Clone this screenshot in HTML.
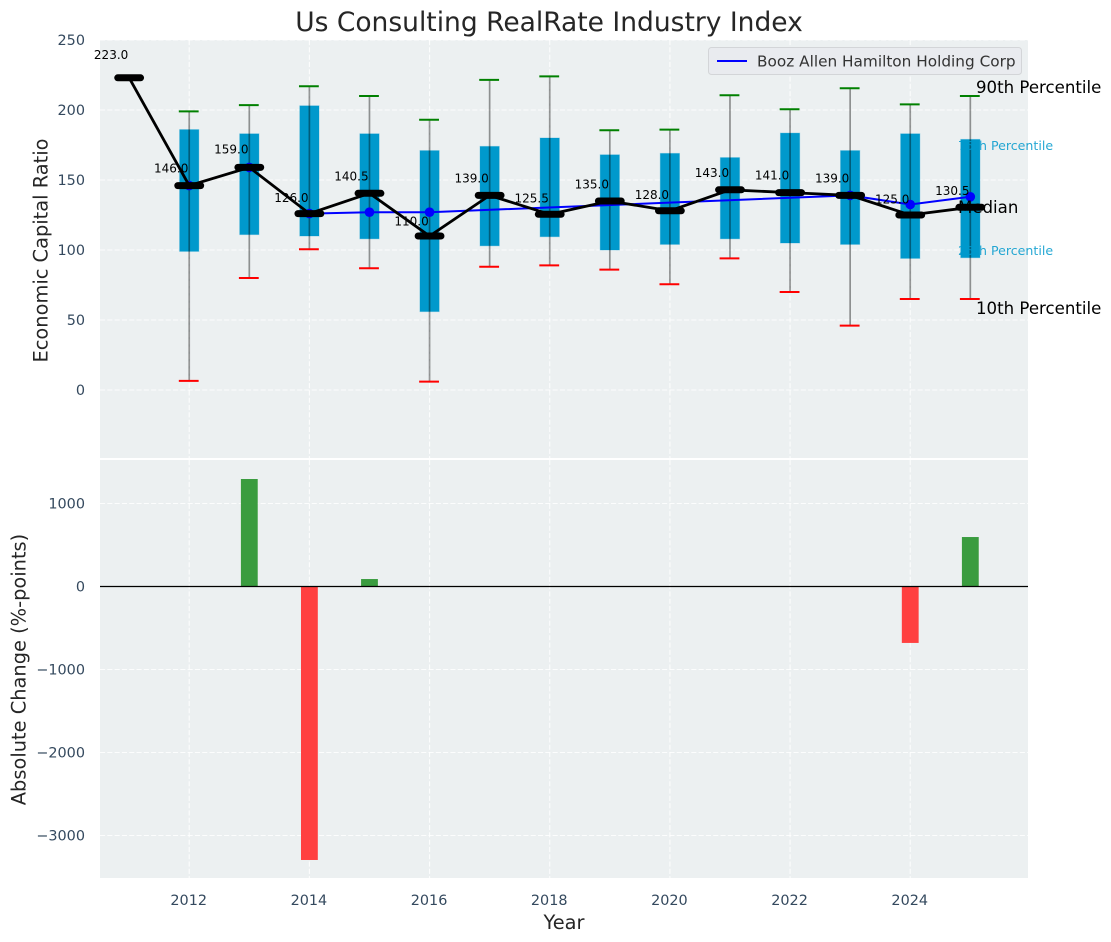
<!DOCTYPE html>
<html lang="en">
<head>
<meta charset="utf-8">
<title>Us Consulting RealRate Industry Index</title>
<style>
  html, body { margin: 0; padding: 0; background: #fff; }
  svg { display: block; font-family: "DejaVu Sans", "Liberation Sans", sans-serif; }
</style>
</head>
<body>
<svg id="chart" xmlns="http://www.w3.org/2000/svg" width="1111" height="942" viewBox="0 0 1111 942">
  <rect x="0" y="0" width="1111" height="942" fill="#ffffff"/>
  <rect x="100" y="40" width="928" height="418" fill="#ecf0f1"/>
  <rect x="100" y="460" width="928" height="418" fill="#ecf0f1"/>
  <g id="grid"></g>
  <g id="ticks"></g>
  <g id="boxes"></g>
  <g id="company"></g>
  <g id="medians"></g>
  <g id="bars"></g>
  <line x1="100" x2="1028" y1="586.5" y2="586.5" stroke="#000" stroke-width="1.3"/>
  <text x="549" y="31" text-anchor="middle" font-size="26.5" fill="#262626">Us Consulting RealRate Industry Index</text>
  <text transform="translate(47.5,250.5) rotate(-90)" text-anchor="middle" font-size="19.4" fill="#262626">Economic Capital Ratio</text>
  <text transform="translate(25.5,669.5) rotate(-90)" text-anchor="middle" font-size="19.4" fill="#262626">Absolute Change (%-points)</text>
  <text x="564" y="929" text-anchor="middle" font-size="19.4" fill="#262626">Year</text>
  <g>
    <rect x="708.5" y="47.5" width="313" height="27" rx="3" fill="#e9ebef" stroke="#d3d5d8"/>
    <line x1="717" x2="747" y1="61" y2="61" stroke="#0000ff" stroke-width="2"/>
    <text x="757" y="66.5" font-size="15.3" fill="#333">Booz Allen Hamilton Holding Corp</text>
  </g>
  <text x="976" y="93" font-size="16.6" fill="#000">90th Percentile</text>
  <text x="958" y="150" font-size="12.6" fill="#0099cc" fill-opacity="0.85">75th Percentile</text>
  <text x="958" y="213" font-size="16.6" fill="#000">Median</text>
  <text x="958" y="255" font-size="12.6" fill="#0099cc" fill-opacity="0.85">25th Percentile</text>
  <text x="976" y="314" font-size="16.6" fill="#000">10th Percentile</text>
</svg>
<script>
// Chart data
const boxYears = [2012, 2013, 2014, 2015, 2016, 2017, 2018, 2019, 2020, 2021, 2022, 2023, 2024, 2025];
const p90 = [199, 203.5, 217, 210, 193, 221.5, 224, 185.5, 186, 210.5, 200.5, 215.5, 204, 210];
const p75 = [186, 183, 203, 183, 171, 174, 180, 168, 169, 166, 183.5, 171, 183, 179];
const p25 = [99, 111, 110, 108, 56, 103, 109.5, 100, 104, 108, 105, 104, 94, 94.5];
const p10 = [6.5, 80, 100.5, 87, 6, 88, 89, 86, 75.5, 94, 70, 46, 65, 65];
const medianYears = [2011, 2012, 2013, 2014, 2015, 2016, 2017, 2018, 2019, 2020, 2021, 2022, 2023, 2024, 2025];
const medians = [223, 146, 159, 126, 140.5, 110, 139, 125.5, 135, 128, 143, 141, 139, 125, 130.5];
const companyYears = [2012, 2013, 2014, 2015, 2016, 2023, 2024, 2025];
const companyValues = [146, 159, 126, 127, 127, 139, 132.5, 138];
const changeYears = [2013, 2014, 2015, 2024, 2025];
const changeValues = [1295, -3295, 90, -680, 596];
const xTicks = [2012, 2014, 2016, 2018, 2020, 2022, 2024];
const topTicks = [0, 50, 100, 150, 200, 250];
const bottomTicks = [-3000, -2000, -1000, 0, 1000];

// Axis functions
const NS = 'http://www.w3.org/2000/svg';
function xPos(year) { return 100 + (year - 2010.515) / (2025.96 - 2010.515) * 928; }
function yTop(v) { return 40 + (250 - v) / (250 + 48.57) * 418; }
function yBottom(v) { return 460 + (1524 - v) / (1524 + 3512) * 418; }
function make(tag, parent, attrs) {
  const el = document.createElementNS(NS, tag);
  for (const k in attrs) el.setAttribute(k, attrs[k]);
  document.getElementById(parent).appendChild(el);
  return el;
}
function fmt(v) { return v < 0 ? '\u2212' + Math.abs(v) : String(v); }

// Grid
xTicks.forEach(function (t) {
  const top = make('line', 'grid', { x1: xPos(t), x2: xPos(t), y1: 40, y2: 458, stroke: '#fff', 'stroke-width': 1.1, 'stroke-dasharray': '5.1 2.2', 'stroke-opacity': 0.85 });
  
  
  const bot = make('line', 'grid', { x1: xPos(t), x2: xPos(t), y1: 460, y2: 878, stroke: '#fff', 'stroke-width': 1.1, 'stroke-dasharray': '5.1 2.2', 'stroke-opacity': 0.85 });
  
  
  const label = make('text', 'ticks', { x: xPos(t) - 0.5, y: 905, 'text-anchor': 'middle', 'font-size': 14.4, fill: '#34495e' });
  
  
  label.textContent = String(t);
});
topTicks.forEach(function (t) {
  const line = make('line', 'grid', { x1: 100, x2: 1028, y1: yTop(t), y2: yTop(t), stroke: '#fff', 'stroke-width': 1.1, 'stroke-dasharray': '5.1 2.2', 'stroke-opacity': 0.85 });
  
  
  const label = make('text', 'ticks', { x: 85, y: yTop(t) + 5, 'text-anchor': 'end', 'font-size': 14.4, fill: '#34495e' });
  
  
  label.textContent = fmt(t);
});
bottomTicks.forEach(function (t) {
  const line = make('line', 'grid', { x1: 100, x2: 1028, y1: yBottom(t), y2: yBottom(t), stroke: '#fff', 'stroke-width': 1.1, 'stroke-dasharray': '5.1 2.2', 'stroke-opacity': 0.85 });
  
  
  const label = make('text', 'ticks', { x: 85, y: yBottom(t) + 5, 'text-anchor': 'end', 'font-size': 14.4, fill: '#34495e' });
  
  
  label.textContent = fmt(t);
});

// Percentile boxes and whiskers
boxYears.forEach(function (year, i) {
  const cx = xPos(year);
  const halfBox = xPos(year + 0.16) - cx;
  const halfCap = xPos(year + 0.165) - cx;
  const box = make('rect', 'boxes', { x: cx - halfBox, y: yTop(p75[i]), width: halfBox * 2, height: yTop(p25[i]) - yTop(p75[i]), fill: '#0099cc', stroke: '#0099cc', 'stroke-opacity': 0.3, 'stroke-width': 1 });
  
  
  const whisker = make('line', 'boxes', { x1: cx, x2: cx, y1: yTop(p90[i]), y2: yTop(p10[i]), stroke: '#000', 'stroke-opacity': 0.4, 'stroke-width': 1.7 });
  
  
  const capHigh = make('line', 'boxes', { x1: cx - halfCap - 0.5, x2: cx + halfCap - 0.5, y1: yTop(p90[i]), y2: yTop(p90[i]), stroke: '#008000', 'stroke-width': 2 });
  
  
  const capLow = make('line', 'boxes', { x1: cx - halfCap - 0.5, x2: cx + halfCap - 0.5, y1: yTop(p10[i]), y2: yTop(p10[i]), stroke: '#ff0000', 'stroke-width': 2 });
  
  
});

// Company series
const companyLine = make('polyline', 'company', { points: companyYears.map(function (y, i) { return xPos(y) + ',' + yTop(companyValues[i]); }).join(' '), fill: 'none', stroke: '#0000ff', 'stroke-width': 2 });


companyYears.forEach(function (y, i) {
  const dot = make('circle', 'company', { cx: xPos(y), cy: yTop(companyValues[i]), r: 4.8, fill: '#0000ff' });
  
  
});

// Median series
const medianLine = make('polyline', 'medians', { points: medianYears.map(function (y, i) { return xPos(y) + ',' + yTop(medians[i]); }).join(' '), fill: 'none', stroke: '#000', 'stroke-width': 2.8 });


medianYears.forEach(function (y, i) {
  const half = xPos(y + 0.19) - xPos(y);
  const cap = make('line', 'medians', { x1: xPos(y) - half, x2: xPos(y) + half, y1: yTop(medians[i]), y2: yTop(medians[i]), stroke: '#000', 'stroke-width': 7, 'stroke-linecap': 'round' });
  
  
  const label = make('text', 'medians', { x: xPos(y - 0.3), y: yTop(medians[i] * 1.05) - 7.4 + 4.4, 'text-anchor': 'middle', 'font-size': 12, fill: '#000' });
  
  
  label.textContent = medians[i].toFixed(1);
});

// Change bars
changeYears.forEach(function (y, i) {
  const v = changeValues[i];
  const half = xPos(y + 0.14) - xPos(y);
  const y0 = yBottom(0);
  const y1 = yBottom(v);
  const bar = make('rect', 'bars', { x: xPos(y) - half, y: Math.min(y0, y1), width: half * 2, height: Math.abs(y1 - y0), fill: v >= 0 ? '#3a9c3f' : '#ff4040' });
  
  
});
</script>
</body>
</html>
